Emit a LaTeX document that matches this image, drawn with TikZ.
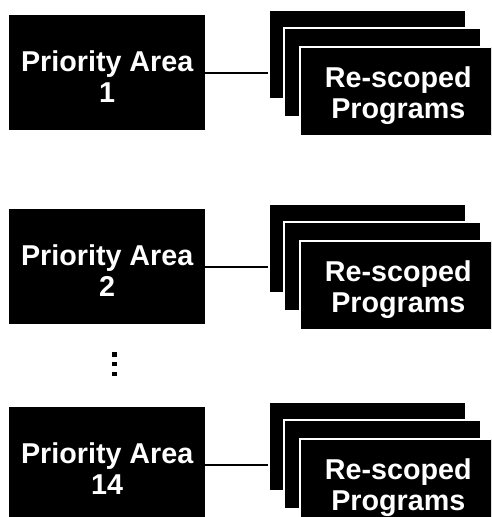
\documentclass[tikz,border=0pt]{standalone}
\usepackage{fontspec}
\setmainfont{Liberation Sans}
\begin{document}
\begin{tikzpicture}[x=1pt,y=-1pt,
  pa/.style={fill=black, minimum width=196pt, minimum height=115pt, inner sep=0pt, anchor=north west},
  card/.style={fill=black, draw=white, line width=1.6pt, minimum width=197pt, minimum height=89pt, inner sep=0pt, anchor=north west},
  lbl/.style={text=white, font=\bfseries\fontsize{28.7}{31}\selectfont, align=center, inner sep=0pt},
  conn/.style={line width=1.7pt, black},
  dotsq/.style={fill=black, minimum width=5pt, minimum height=4.5pt, inner sep=0pt}]
\useasboundingbox (0,0) rectangle (491,517);
\clip (0,0) rectangle (491,517);
\foreach \i/\t/\n in {1/15/1, 2/209/2, 3/407/14} {
  \node[pa] (pa\i) at (9,\t) {};
  \node[card] (back\i) at (268,\t-6) {};
  \node[card] (mid\i) at (283,\t+12) {};
  \node[card] (front\i) at (299,\t+31) {};
  \node[lbl] (palbl\i) at ([yshift=-4pt]pa\i.center) {Priority Area\\\n};
  \node[lbl] (frontlbl\i) at ([yshift=-4pt]front\i.center) {Re-scoped\\Programs};
  \draw[conn] (pa\i.east) -- (pa\i.east -| back\i.west);
}
\node[dotsq] (dot1) at (114.5,354.5) {};
\node[dotsq] (dot2) at (114.5,364) {};
\node[dotsq] (dot3) at (114.5,374) {};
\end{tikzpicture}
\end{document}
